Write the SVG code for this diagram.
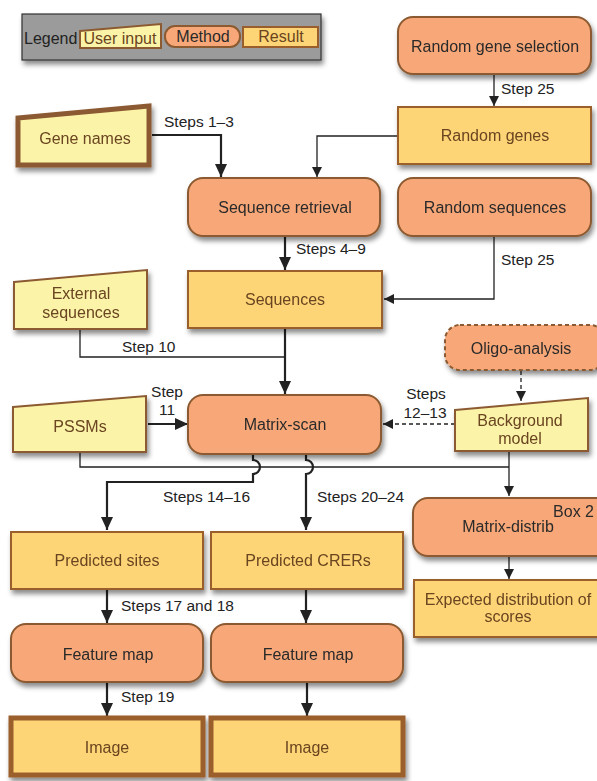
<svg xmlns="http://www.w3.org/2000/svg" width="597" height="781" viewBox="0 0 597 781">
<style>
.m{fill:#f8a878;stroke:#8c5a30;stroke-width:2}
.r{fill:#fdd576;stroke:#9a5e2c;stroke-width:2}
.u{fill:#fbf4a8;stroke:#8c5a30;stroke-width:2}
.thickb{stroke-width:5}
.tm{font-family:"Liberation Sans",Arial,sans-serif;font-size:16px;fill:#2a2a2a;text-anchor:middle}
.tr{font-family:"Liberation Sans",Arial,sans-serif;font-size:16px;fill:#6a4420;text-anchor:middle}
.tl{font-family:"Liberation Sans",Arial,sans-serif;font-size:15.5px;fill:#222}
.ln{fill:none;stroke:#222;stroke-width:1.3}
.lk{fill:none;stroke:#222;stroke-width:2.2}
</style>
<defs>
<filter id="sh" x="-20%" y="-20%" width="140%" height="160%">
<feDropShadow dx="2" dy="4" stdDeviation="2.5" flood-color="#000" flood-opacity="0.45"/>
</filter>
<marker id="ak" markerUnits="userSpaceOnUse" markerWidth="14" markerHeight="14" refX="13" refY="6" orient="auto">
<path d="M0,0 L13,6 L0,12 z" fill="#222"/>
</marker>
<marker id="an" markerUnits="userSpaceOnUse" markerWidth="12" markerHeight="12" refX="10" refY="5" orient="auto">
<path d="M0,0 L10,5 L0,10 z" fill="#222"/>
</marker>
</defs>

<g id="legend">
<rect x="22" y="14" width="299" height="46" fill="#9b9b9b" stroke="#333" stroke-width="1.2" filter="url(#sh)"/>
<text x="24" y="44" font-family="Liberation Sans, Arial, sans-serif" font-size="16" fill="#222">Legend</text>
<polygon points="80,31 161,24 161,48 80,48" class="u"/>
<text x="120" y="44" class="tr">User input</text>
<rect x="165" y="26" width="75" height="21" rx="10" class="m"/>
<text x="203" y="42" class="tm">Method</text>
<rect x="243" y="27" width="75" height="20" class="r"/>
<text x="281" y="42" class="tr">Result</text>
</g>

<g id="connectors">
<line x1="494" y1="75" x2="494" y2="106" class="ln" marker-end="url(#an)"/>
<polyline points="398,136 317,136 317,177" class="ln" marker-end="url(#an)"/>
<polyline points="152,135 221,135 221,177" class="lk" marker-end="url(#ak)"/>
<line x1="285" y1="237" x2="285" y2="270" class="lk" marker-end="url(#ak)"/>
<polyline points="494,237 494,299 384,299" class="ln" marker-end="url(#an)"/>
<polyline points="80,329 80,357 285,357" class="ln"/>
<line x1="285" y1="329" x2="285" y2="394" class="lk" marker-end="url(#ak)"/>
<line x1="148" y1="424" x2="188" y2="424" class="lk" marker-end="url(#ak)"/>
<line x1="521" y1="371" x2="521" y2="401" class="ln" stroke-dasharray="4,3" marker-end="url(#an)"/>
<line x1="455" y1="424" x2="383" y2="424" class="ln" stroke-dasharray="4,3" marker-end="url(#an)"/>
<polyline points="80,452 80,467 509,467" class="ln"/>
<line x1="509" y1="452" x2="509" y2="496" class="ln" marker-end="url(#an)"/>
<path d="M253,455 V460 A7,7 0 0 1 253,474 V482 H107 V530" class="lk" marker-end="url(#ak)"/>
<path d="M306,455 V460 A7,7 0 0 1 306,474 V530" class="lk" marker-end="url(#ak)"/>
<line x1="509" y1="557" x2="509" y2="579" class="ln" marker-end="url(#an)"/>
<line x1="107" y1="590" x2="107" y2="623" class="lk" marker-end="url(#ak)"/>
<line x1="306" y1="590" x2="306" y2="623" class="lk" marker-end="url(#ak)"/>
<line x1="107" y1="683" x2="107" y2="716" class="lk" marker-end="url(#ak)"/>
<line x1="307" y1="683" x2="307" y2="716" class="lk" marker-end="url(#ak)"/>
<text x="501" y="94" class="tl">Step 25</text>
<text x="164" y="127" class="tl">Steps 1–3</text>
<text x="296" y="254" class="tl">Steps 4–9</text>
<text x="501" y="265" class="tl">Step 25</text>
<text x="122" y="352" class="tl">Step 10</text>
<text x="167" y="397" class="tl" text-anchor="middle">Step</text>
<text x="167" y="415" class="tl" text-anchor="middle">11</text>
<text x="426" y="399" class="tl" text-anchor="middle">Steps</text>
<text x="425" y="418" class="tl" text-anchor="middle">12–13</text>
<text x="163" y="502" class="tl">Steps 14–16</text>
<text x="317" y="502" class="tl">Steps 20–24</text>
<text x="121" y="611" class="tl">Steps 17 and 18</text>
<text x="121" y="702" class="tl">Step 19</text>
</g>

<g id="random-gene-selection" filter="url(#sh)">
<rect x="398" y="17" width="193" height="57" rx="15" class="m"/>
<text x="495" y="52" class="tm">Random gene selection</text>
</g>
<g id="random-genes" filter="url(#sh)">
<rect x="398" y="107" width="193" height="57" class="r"/>
<text x="495" y="141" class="tr">Random genes</text>
</g>
<g id="gene-names" filter="url(#sh)">
<polygon points="18,118 149,106 149,165 18,165" class="u thickb"/>
<text x="85" y="144" class="tr">Gene names</text>
</g>
<g id="sequence-retrieval" filter="url(#sh)">
<rect x="188" y="178" width="192" height="58" rx="15" class="m"/>
<text x="285" y="213" class="tm">Sequence retrieval</text>
</g>
<g id="random-sequences" filter="url(#sh)">
<rect x="398" y="178" width="193" height="58" rx="15" class="m"/>
<text x="495" y="213" class="tm">Random sequences</text>
</g>
<g id="external-sequences" filter="url(#sh)">
<polygon points="14,282 147,270 147,329 14,329" class="u"/>
<text x="81" y="299" class="tr">External</text>
<text x="81" y="318" class="tr">sequences</text>
</g>
<g id="sequences" filter="url(#sh)">
<rect x="188" y="271" width="194" height="57" class="r"/>
<text x="285" y="305" class="tr">Sequences</text>
</g>
<g id="oligo-analysis" filter="url(#sh)">
<rect x="445" y="325" width="160" height="45" rx="15" class="m" stroke-dasharray="4,3"/>
<text x="521" y="354" class="tm">Oligo-analysis</text>
</g>
<g id="pssms" filter="url(#sh)">
<polygon points="13,407 146,396 146,452 13,452" class="u"/>
<text x="80" y="432" class="tr">PSSMs</text>
</g>
<g id="matrix-scan" filter="url(#sh)">
<rect x="188" y="395" width="193" height="59" rx="15" class="m"/>
<text x="285" y="430" class="tm">Matrix-scan</text>
</g>
<g id="background-model" filter="url(#sh)">
<polygon points="455,410 588,398 588,451 455,451" class="u"/>
<text x="520" y="426" class="tr">Background</text>
<text x="520" y="444" class="tr">model</text>
</g>
<g id="matrix-distrib" filter="url(#sh)">
<rect x="413" y="498" width="200" height="58" rx="15" class="m"/>
<text x="508" y="532" class="tm">Matrix-distrib</text>
<text x="594" y="517" class="tm" style="text-anchor:end">Box 2</text>
</g>
<g id="expected-distribution" filter="url(#sh)">
<rect x="414" y="580" width="190" height="57" class="r"/>
<text x="508" y="605" class="tr">Expected distribution of</text>
<text x="508" y="622" class="tr">scores</text>
</g>
<g id="predicted-sites" filter="url(#sh)">
<rect x="11" y="532" width="192" height="57" class="r"/>
<text x="107" y="566" class="tr">Predicted sites</text>
</g>
<g id="predicted-crers" filter="url(#sh)">
<rect x="211" y="532" width="192" height="57" class="r"/>
<text x="308" y="566" class="tr">Predicted CRERs</text>
</g>
<g id="feature-map-1" filter="url(#sh)">
<rect x="11" y="624" width="192" height="58" rx="15" class="m"/>
<text x="108" y="660" class="tm">Feature map</text>
</g>
<g id="feature-map-2" filter="url(#sh)">
<rect x="211" y="624" width="192" height="58" rx="15" class="m"/>
<text x="308" y="660" class="tm">Feature map</text>
</g>
<g id="image-1" filter="url(#sh)">
<rect x="11" y="718" width="192" height="57" class="r thickb"/>
<text x="107" y="753" class="tr">Image</text>
</g>
<g id="image-2" filter="url(#sh)">
<rect x="211" y="718" width="192" height="57" class="r thickb"/>
<text x="307" y="753" class="tr">Image</text>
</g>
</svg>
